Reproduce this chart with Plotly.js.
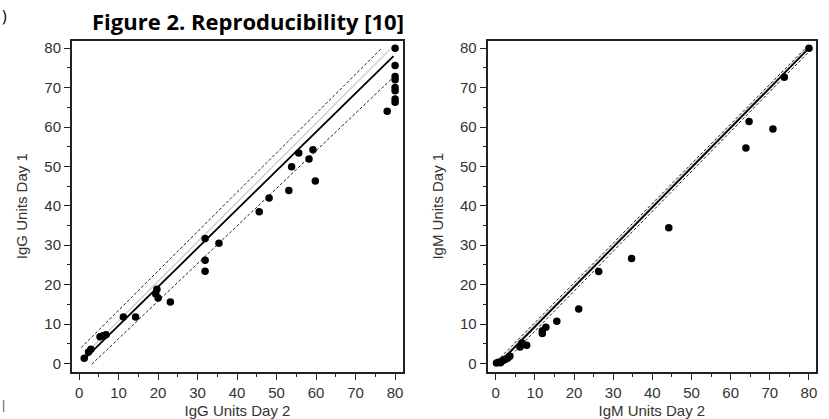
<!DOCTYPE html>
<html>
<head>
<meta charset="utf-8">
<script src="https://cdn.plot.ly/plotly-3.0.1.min.js"></script>
<style>html,body{margin:0;padding:0;background:#fff;}#chart{width:829px;height:419px;}</style>
</head>
<body>
<div id="chart"></div>
<script>
// IgG panel data (Day 2 on x, Day 1 on y)
const iggDay2 = [80, 80, 80, 80, 80, 80, 80, 80, 78, 59.2, 58.2, 55.6, 53.8, 53.1, 59.8, 48.1, 45.6, 35.4, 31.9, 31.9, 31.9, 23.1, 19.7, 19.4, 20.0, 14.3, 11.2, 6.8, 5.3, 6.0, 3.0, 2.4, 1.3];
const iggDay1 = [80, 75.6, 72.8, 72.0, 70.0, 69.2, 67.1, 66.3, 64.0, 54.2, 51.9, 53.4, 49.9, 43.9, 46.3, 42.0, 38.5, 30.5, 31.7, 26.2, 23.4, 15.6, 18.8, 17.6, 16.6, 11.8, 11.8, 7.3, 6.8, 7.0, 3.6, 2.9, 1.3];
// IgG fit lines [x0, x1], [y0, y1]
const iggFitX = [1.0, 79.6], iggFitY = [0.8, 78.0];
const iggIdentX = [1.0, 78.7], iggIdentY = [1.8, 79.7];
const iggUpperX = [0.5, 76.6], iggUpperY = [4.0, 80.0];
const iggLowerX = [3.2, 79.0], iggLowerY = [-0.2, 72.1];

// IgM panel data
const igmDay2 = [80, 73.7, 64.7, 63.9, 70.8, 44.2, 34.7, 26.3, 21.2, 15.6, 12.8, 11.9, 11.9, 7.9, 6.7, 6.2, 0.2, 0.7, 1.2, 1.6, 2.1, 2.6, 3.1, 3.6];
const igmDay1 = [80, 72.6, 61.4, 54.7, 59.5, 34.4, 26.6, 23.3, 13.8, 10.7, 9.2, 8.3, 7.6, 4.6, 5.2, 4.2, 0.1, 0.3, 0.2, 0.6, 0.9, 1.1, 1.4, 1.8];
const igmFitX = [0.8, 80.0], igmFitY = [0.0, 80.0];
const igmIdentX = [0.6, 79.8], igmIdentY = [0.3, 80.2];
const igmUpperX = [0.3, 79.5], igmUpperY = [0.6, 80.4];
const igmLowerX = [1.3, 80.3], igmLowerY = [-0.6, 79.4];

const tickVals = [0, 10, 20, 30, 40, 50, 60, 70, 80];
const tickText = ['0', '10', '20', '30', '40', '50', '60', '70', '80'];

const dashStyle = {color: '#222', width: 1, dash: '3px,2px'};
const identStyle = {color: '#c8c8c8', width: 1.2};
const fitStyle = {color: '#000', width: 1.8};
const mk = {color: '#000', size: 7.5};

const traces = [
  {x: iggIdentX, y: iggIdentY, mode: 'lines', line: identStyle, xaxis: 'x', yaxis: 'y'},
  {x: iggUpperX, y: iggUpperY, mode: 'lines', line: dashStyle, xaxis: 'x', yaxis: 'y'},
  {x: iggLowerX, y: iggLowerY, mode: 'lines', line: dashStyle, xaxis: 'x', yaxis: 'y'},
  {x: iggFitX, y: iggFitY, mode: 'lines', line: fitStyle, xaxis: 'x', yaxis: 'y'},
  {x: iggDay2, y: iggDay1, mode: 'markers', marker: mk, xaxis: 'x', yaxis: 'y'},
  {x: igmIdentX, y: igmIdentY, mode: 'lines', line: identStyle, xaxis: 'x2', yaxis: 'y2'},
  {x: igmUpperX, y: igmUpperY, mode: 'lines', line: dashStyle, xaxis: 'x2', yaxis: 'y2'},
  {x: igmLowerX, y: igmLowerY, mode: 'lines', line: dashStyle, xaxis: 'x2', yaxis: 'y2'},
  {x: igmFitX, y: igmFitY, mode: 'lines', line: fitStyle, xaxis: 'x2', yaxis: 'y2'},
  {x: igmDay2, y: igmDay1, mode: 'markers', marker: mk, xaxis: 'x2', yaxis: 'y2'}
];

const font = {family: '"Liberation Sans", Arial, sans-serif', size: 15, color: '#333'};
function ax(extra) {
  return Object.assign({
    showgrid: false, zeroline: false, showline: true, mirror: true,
    linecolor: '#222', linewidth: 2, ticks: 'outside', ticklen: 6, tickwidth: 1,
    tickcolor: '#222', tickvals: tickVals, ticktext: tickText, tickfont: font,
    minor: {ticks: 'outside', ticklen: 3, tickwidth: 1, tickcolor: '#222', dtick: 5, tick0: 0, showgrid: false},
    automargin: false, fixedrange: true
  }, extra);
}

const yDom = [1 - 371.7 / 419, 1 - 40.7 / 419];
const layout = {
  width: 829, height: 419, showlegend: false,
  margin: {l: 0, r: 0, t: 0, b: 0},
  paper_bgcolor: '#fff', plot_bgcolor: '#fff',
  xaxis: ax({domain: [72 / 829, 403 / 829], range: [-1.8, 82], anchor: 'y',
    title: {text: 'IgG Units Day 2', font: font, standoff: 6}}),
  yaxis: ax({domain: yDom, range: [-2.1, 81.9], anchor: 'x',
    title: {text: 'IgG Units Day 1', font: font, standoff: 13}}),
  xaxis2: ax({domain: [487.7 / 829, 816 / 829], range: [-2.05, 81.8], anchor: 'y2',
    title: {text: 'IgM Units Day 2', font: font, standoff: 6}}),
  yaxis2: ax({domain: yDom, range: [-2.1, 81.9], anchor: 'x2',
    title: {text: 'IgM Units Day 1', font: font, standoff: 13}}),
  annotations: [
    {text: '<b>Figure 2. Reproducibility [10]</b>', xref: 'paper', yref: 'paper',
     x: 248 / 829, y: 1 - 21 / 419, xanchor: 'center', yanchor: 'middle', showarrow: false,
     font: {family: '"Open Sans", sans-serif', size: 22, color: '#000'}},
    {text: ')', xref: 'paper', yref: 'paper', x: 0, y: 1 - 16 / 419, xanchor: 'left', yanchor: 'middle',
     showarrow: false, font: {family: '"Open Sans", sans-serif', size: 16, color: '#000'}},
    {text: '|', xref: 'paper', yref: 'paper', x: 0, y: 1 - 405 / 419, xanchor: 'left', yanchor: 'middle',
     showarrow: false, font: {family: '"Liberation Sans", sans-serif', size: 12, color: '#555'}}
  ]
};

Plotly.newPlot('chart', traces, layout, {staticPlot: true, displayModeBar: false});
</script>
</body>
</html>
